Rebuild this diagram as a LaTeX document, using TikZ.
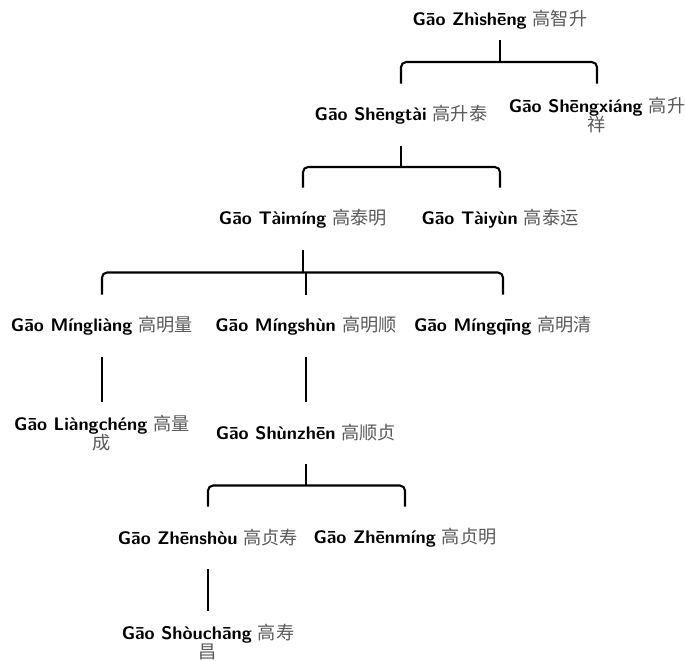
\documentclass[tikz,border=0pt]{standalone}
\usepackage{fontspec}
\newfontfamily\cjk{Noto Sans CJK SC}
\usetikzlibrary{calc}
\newcommand{\pn}[2]{{\sffamily\bfseries #1}~{\cjk\color{black!65}#2}}
\begin{document}
\begin{tikzpicture}[x=0.5495pt,y=-0.5495pt,
  person/.style={inner sep=0pt, minimum height=34pt, align=center,
    font=\fontsize{10}{10.5}\selectfont},
  rootp/.style={person, minimum height=22pt},
  edge/.style={line width=1.15pt},
  bracket/.style={edge, rounded corners=2.8pt}]
\useasboundingbox (0,0) rectangle (685,661);
% nodes
\node[rootp] (zs) at (500,20) {\pn{Gāo Zhìshēng}{高智升}};
\node[person] (st) at (401,115) {\pn{Gāo Shēngtài}{高升泰}};
\node[person] (sx) at (597,115) {\pn{Gāo Shēngxiáng}{高升}\\{\cjk\color{black!65}祥}};
\node[person] (tm) at (303,219) {\pn{Gāo Tàimíng}{高泰明}};
\node[person] (ty) at (500,219) {\pn{Gāo Tàiyùn}{高泰运}};
\node[person] (ml) at (102,326) {\pn{Gāo Míngliàng}{高明量}};
\node[person] (ms) at (306,326) {\pn{Gāo Míngshùn}{高明顺}};
\node[person] (mq) at (503,326) {\pn{Gāo Míngqīng}{高明清}};
\node[person] (lc) at (102,433) {\pn{Gāo Liàngchéng}{高量}\\{\cjk\color{black!65}成}};
\node[person] (sz) at (306,433) {\pn{Gāo Shùnzhēn}{高顺贞}};
\node[person] (zso) at (208,538) {\pn{Gāo Zhēnshòu}{高贞寿}};
\node[person] (zm) at (405,538) {\pn{Gāo Zhēnmíng}{高贞明}};
\node[person] (sc) at (208,642) {\pn{Gāo Shòuchāng}{高寿}\\{\cjk\color{black!65}昌}};
% junctions
\coordinate (j1) at ($(zs.south)!0.5!(zs.south |- st.north)$);
\coordinate (j2) at ($(st.south)!0.5!(st.south |- tm.north)$);
\coordinate (j3) at ($(tm.south)!0.5!(tm.south |- ml.north)$);
\coordinate (j4) at ($(sz.south)!0.5!(sz.south |- zso.north)$);
% connectors
\draw[edge] (zs.south) -- (j1);
\draw[bracket] (st.north) |- (j1) -| (sx.north);
\draw[edge] (st.south) -- (j2);
\draw[bracket] (tm.north) |- (j2) -| (ty.north);
\draw[edge] (tm.south) -- (j3);
\draw[bracket] (ml.north) |- (j3) -| (mq.north);
\draw[edge] (ms.north) -- (ms.north |- j3);
\draw[edge] (ml.south) -- (lc.north);
\draw[edge] (ms.south) -- (sz.north);
\draw[edge] (sz.south) -- (j4);
\draw[bracket] (zso.north) |- (j4) -| (zm.north);
\draw[edge] (zso.south) -- (sc.north);
\end{tikzpicture}
\end{document}
